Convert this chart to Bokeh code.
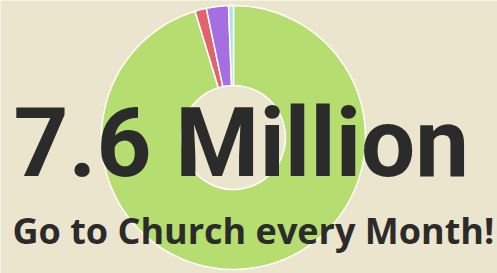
import math
from bokeh.plotting import figure
from bokeh.models import Range1d, ColumnDataSource
from bokeh.core.properties import value
from bokeh.embed import file_html
from bokeh.resources import INLINE

# ---- data ----
categories = ["Monthly", "Red group", "Purple group", "Blue group"]
shares = [95.3, 1.4, 2.7, 0.6]
slice_colors = ["#b6dd6f", "#e0636d", "#a56ee2", "#a9e3ef"]
headline = "7.6 Million"
subline = "Go to Church every Month!"

BG = "#ece5cd"
W, H = 497, 273

# data coordinates: x = screen pixel x, y = H - screen pixel y
p = figure(width=W, height=H, output_backend="svg", toolbar_location=None,
           x_range=Range1d(0, W), y_range=Range1d(0, H), min_border=0)
p.axis.visible = False
p.grid.visible = False
p.outline_line_color = None
p.background_fill_color = BG
p.border_fill_color = BG

total = sum(shares)
starts, ends = [], []
cum = 0.0
for v in shares:
    a0 = cum / total
    cum += v
    a1 = cum / total
    # clockwise from 12 o'clock
    starts.append(math.pi / 2 - 2 * math.pi * a1)
    ends.append(math.pi / 2 - 2 * math.pi * a0)

src = ColumnDataSource(dict(cat=categories, val=shares, color=slice_colors,
                            start=starts, end=ends))
cx, cy = 233, H - 137
p.annular_wedge(x=cx, y=cy, inner_radius=52, outer_radius=132,
                start_angle="start", end_angle="end", direction="anticlock",
                fill_color="color", line_color="#ffffff", line_width=1.5,
                source=src)

p.text(x=[13], y=[H - 142], text=[headline], text_font=value("Roboto"),
       text_font_style="bold", text_font_size="96px", text_color="#2b2b2b",
       text_baseline="alphabetic", text_align="left")
p.text(x=[12], y=[H - 230], text=[subline], text_font=value("Open Sans"),
       text_font_style="bold", text_font_size="36px", text_color="#2b2b2b",
       text_baseline="alphabetic", text_align="left")

open("out.html", "w").write(file_html(p, INLINE))
